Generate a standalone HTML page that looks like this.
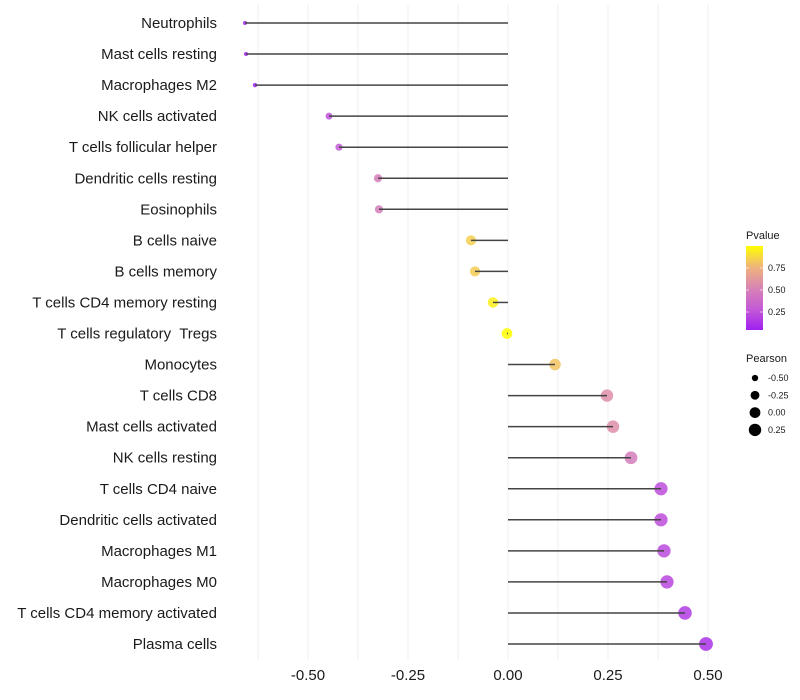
<!DOCTYPE html>
<html><head><meta charset="utf-8"><style>
body{margin:0;background:#fff;}
svg{display:block;font-family:"Liberation Sans",sans-serif;}
</style></head><body>
<svg id="chart" width="800" height="700">
<defs><linearGradient id="pg" x1="0" y1="1" x2="0" y2="0">
<stop offset="0" stop-color="#a020f0"/><stop offset="0.25" stop-color="#c45ad6"/><stop offset="0.5" stop-color="#d884b4"/><stop offset="0.75" stop-color="#efb47c"/><stop offset="1" stop-color="#ffff00"/></linearGradient></defs>
<g id="grid"></g>
<g id="marks"></g>
<g id="ylab"></g>
<g id="xlab"></g>
<g id="legend"></g>
</svg>
<script>
const categories=["Neutrophils","Mast cells resting","Macrophages M2","NK cells activated","T cells follicular helper","Dendritic cells resting","Eosinophils","B cells naive","B cells memory","T cells CD4 memory resting","T cells regulatory  Tregs","Monocytes","T cells CD8","Mast cells activated","NK cells resting","T cells CD4 naive","Dendritic cells activated","Macrophages M1","Macrophages M0","T cells CD4 memory activated","Plasma cells"];
const pearson=[-0.6575,-0.655,-0.6325,-0.4475,-0.4225,-0.325,-0.3225,-0.0925,-0.0825,-0.0375,-0.0025,0.1175,0.2475,0.2625,0.3075,0.3825,0.3825,0.39,0.3975,0.4425,0.495];
const pvalue=[0.01,0.01,0.02,0.22,0.25,0.45,0.45,0.84,0.83,0.95,1.0,0.8,0.55,0.55,0.45,0.2,0.2,0.18,0.17,0.12,0.08];
const xTicks=[-0.5,-0.25,0,0.25,0.5];
const xTickLabels=["-0.50","-0.25","0.00","0.25","0.50"];
const legendP=[0.75,0.5,0.25];
const legendR=[-0.5,-0.25,0,0.25];

const NS="http://www.w3.org/2000/svg";
const xs=v=>508+400*v;
const ys=i=>23+i*31.05;
const rs=v=>Math.sqrt(Math.max(1,29+38*v));
const stops=[[0,[160,32,240]],[0.25,[196,90,214]],[0.5,[216,132,180]],[0.75,[239,180,124]],[1,[255,255,0]]];
function col(p){p=Math.max(0,Math.min(1,p));for(let k=1;k<stops.length;k++){if(p<=stops[k][0]){const a=stops[k-1],b=stops[k],t=(p-a[0])/(b[0]-a[0]);return "rgb("+a[1].map((c,j)=>Math.round(c+(b[1][j]-c)*t)).join(",")+")";}}return "rgb(255,255,0)";}
function mk(tag,attrs,parent){const e=document.createElementNS(NS,tag);for(const k in attrs)e.setAttribute(k,attrs[k]);parent.appendChild(e);return e;}
const grid=document.getElementById("grid"),marks=document.getElementById("marks"),ylab=document.getElementById("ylab"),xlab=document.getElementById("xlab"),leg=document.getElementById("legend");
for(let v=-0.625;v<=0.51;v+=0.125){const g=mk("line",{x1:xs(v),x2:xs(v),y1:5,y2:660,stroke:"#efefef","stroke-width":1},grid);

}
categories.forEach((c,i)=>{
const y=ys(i),x=xs(pearson[i]);
const pt=mk("circle",{cx:x,cy:y,r:rs(pearson[i]),fill:col(pvalue[i]),"fill-opacity":0.85},marks);


const ln=mk("line",{x1:xs(0),x2:x,y1:y,y2:y,stroke:"#444","stroke-width":1.5},marks);


const t=mk("text",{x:217,y:y+5,"text-anchor":"end","font-size":15,fill:"#1a1a1a"},ylab);
t.setAttribute("xml:space","preserve");t.style.whiteSpace="pre";t.textContent=c;


});
xTicks.forEach((v,i)=>{const t=mk("text",{x:xs(v),y:680,"text-anchor":"middle","font-size":15,fill:"#1a1a1a"},xlab);t.textContent=xTickLabels[i];

});
let t=mk("text",{x:746,y:239,"font-size":11,fill:"#1a1a1a"},leg);t.textContent="Pvalue";


const bar=mk("rect",{x:746,y:246,width:17,height:84,fill:"url(#pg)"},leg);


legendP.forEach(p=>{const y=334-88*p;
mk("line",{x1:746,x2:749,y1:y,y2:y,stroke:"#fff","stroke-opacity":0.6},leg);
mk("line",{x1:760,x2:763,y1:y,y2:y,stroke:"#fff","stroke-opacity":0.6},leg);
const l=mk("text",{x:768,y:y+3,"font-size":9,fill:"#1a1a1a"},leg);l.textContent=p.toFixed(2);

});
t=mk("text",{x:746,y:362,"font-size":11,fill:"#1a1a1a"},leg);t.textContent="Pearson";


legendR.forEach((v,i)=>{const y=378+17.3*i;
const c=mk("circle",{cx:755,cy:y,r:rs(v),fill:"#000"},leg);


const l=mk("text",{x:768,y:y+3,"font-size":9,fill:"#1a1a1a"},leg);l.textContent=v.toFixed(2);

});
</script>
</body></html>
